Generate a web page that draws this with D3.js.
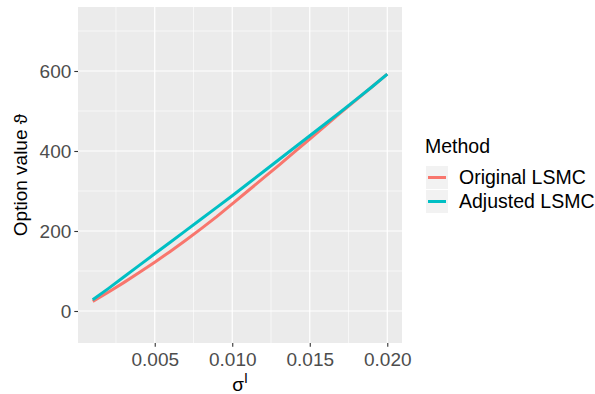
<!DOCTYPE html>
<html>
<head>
<meta charset="utf-8">
<script src="https://cdn.jsdelivr.net/npm/d3@7"></script>
<style>
  body { margin: 0; background: #fff; }
  text { font-family: "Liberation Sans", Arial, sans-serif; }
</style>
</head>
<body>
<div id="chart"></div>
<script>
// sigma^I values on the x axis
const sigma = [0.001, 0.002, 0.003, 0.004, 0.005, 0.006, 0.007, 0.008, 0.009, 0.010,
               0.011, 0.012, 0.013, 0.014, 0.015, 0.016, 0.017, 0.018, 0.019, 0.020];
const original = [24, 47, 71, 96, 122, 149, 177, 206, 236, 268,
                  300, 332, 364, 397, 430, 463, 496, 528, 560, 592];
const adjusted = [28, 56, 85, 114, 143, 172, 201, 230, 259, 288,
                  318, 348, 378, 408, 438, 468, 498, 529, 560, 592];
const methods = ['Original LSMC', 'Adjusted LSMC'];
const colors = ['#F8766D', '#00BFC4'];
const xTicks = [0.005, 0.010, 0.015, 0.020];
const xMinor = [0.0025, 0.0075, 0.0125, 0.0175];
const yTicks = [0, 200, 400, 600];
const yMinor = [100, 300, 500, 700];

const width = 595, height = 394;
const panel = { left: 78, right: 402, top: 7, bottom: 343 };

const svg = d3.select('#chart')
  .append('svg')
  .attr('width', width)
  .attr('height', height);

const x = d3.scaleLinear()
  .domain([0.00005, 0.02095])
  .range([panel.left, panel.right]);

const y = d3.scaleLinear()
  .domain([-80, 760])
  .range([panel.bottom, panel.top]);

// panel background
svg.append('rect')
  .attr('x', panel.left)
  .attr('y', panel.top)
  .attr('width', panel.right - panel.left)
  .attr('height', panel.bottom - panel.top)
  .attr('fill', '#EBEBEB');

const grid = svg.append('g');
grid.selectAll('.xminor').data(xMinor).join('line')
  .attr('x1', d => x(d)).attr('x2', d => x(d))
  .attr('y1', panel.top).attr('y2', panel.bottom)
  .attr('stroke', '#fff').attr('stroke-width', 0.6);
grid.selectAll('.yminor').data(yMinor).join('line')
  .attr('y1', d => y(d)).attr('y2', d => y(d))
  .attr('x1', panel.left).attr('x2', panel.right)
  .attr('stroke', '#fff').attr('stroke-width', 0.6);
grid.selectAll('.xmajor').data(xTicks).join('line')
  .attr('x1', d => x(d)).attr('x2', d => x(d))
  .attr('y1', panel.top).attr('y2', panel.bottom)
  .attr('stroke', '#fff').attr('stroke-width', 1.2);
grid.selectAll('.ymajor').data(yTicks).join('line')
  .attr('y1', d => y(d)).attr('y2', d => y(d))
  .attr('x1', panel.left).attr('x2', panel.right)
  .attr('stroke', '#fff').attr('stroke-width', 1.2);

// lines
const series = [original, adjusted];
const line = d3.line()
  .x((d, i) => x(sigma[i]))
  .y(d => y(d));

svg.append('g')
  .selectAll('path')
  .data(series)
  .join('path')
    .attr('d', d => line(d))
    .attr('fill', 'none')
    .attr('stroke', (d, i) => colors[i])
    .attr('stroke-width', 3)
    .attr('stroke-linecap', 'butt');

// axes
function styleAxis(g) {
  g.select('.domain').remove();
  g.selectAll('.tick line').attr('stroke', '#333333').attr('stroke-width', 1.1);
  g.selectAll('.tick text')
    .attr('fill', '#4D4D4D')
    .attr('font-size', '19px')
    .attr('font-family', '"Liberation Sans", Arial, sans-serif');
}

svg.append('g')
  .attr('transform', `translate(0,${panel.bottom})`)
  .call(d3.axisBottom(x).tickValues(xTicks).tickFormat(d3.format('.3f'))
    .tickSize(3.7).tickPadding(6))
  .call(styleAxis);

svg.append('g')
  .attr('transform', `translate(${panel.left},0)`)
  .call(d3.axisLeft(y).tickValues(yTicks).tickSize(3.7).tickPadding(3))
  .call(styleAxis);

// axis titles
const xTitle = svg.append('text')
  .attr('x', (panel.left + panel.right) / 2)
  .attr('y', 391)
  .attr('text-anchor', 'middle')
  .attr('font-size', '19px')
  .attr('fill', '#000');
xTitle.append('tspan').text('σ');
xTitle.append('tspan').attr('font-size', '14px').attr('dy', '-8').text('I');

svg.append('text')
  .attr('transform', `translate(27,${(panel.top + panel.bottom) / 2}) rotate(-90)`)
  .attr('text-anchor', 'middle')
  .attr('font-size', '19px')
  .attr('fill', '#000')
  .text('Option value ϑ');

// legend
const legend = svg.append('g');
legend.append('text')
  .attr('x', 425)
  .attr('y', 153)
  .attr('font-size', '19.5px')
  .attr('fill', '#000')
  .text('Method');

const keys = legend.selectAll('.key')
  .data(methods)
  .join('g')
  .attr('transform', (d, i) => `translate(426,${166 + i * 24})`);

keys.append('rect')
  .attr('width', 22).attr('height', 23)
  .attr('fill', '#F2F2F2');
keys.append('line')
  .attr('x1', 2).attr('x2', 20)
  .attr('y1', 11.5).attr('y2', 11.5)
  .attr('stroke', (d, i) => colors[i])
  .attr('stroke-width', 3);
keys.append('text')
  .attr('x', 33)
  .attr('y', 11.5)
  .attr('dy', '0.35em')
  .attr('font-size', '19.5px')
  .attr('fill', '#000')
  .text(d => d);
</script>
</body>
</html>
